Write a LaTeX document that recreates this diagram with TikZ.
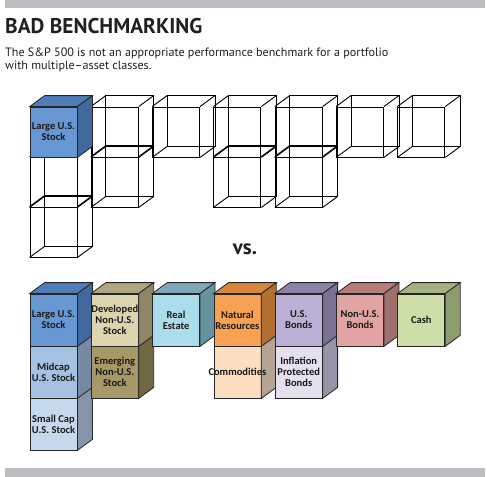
\documentclass[tikz,border=0pt]{standalone}
\usepackage{fontspec}
\setmainfont{PT Sans}
\newfontfamily\cubefont{Carlito}
\usepackage{xcolor}
\usetikzlibrary{positioning}

\definecolor{barGray}{RGB}{188,189,193}
\definecolor{inkBlack}{RGB}{35,31,32}
% front / top / side colours of the blocks
\definecolor{largeF}{RGB}{104,152,212}\definecolor{largeT}{RGB}{78,125,184}\definecolor{largeS}{RGB}{65,105,158}
\definecolor{midF}{RGB}{165,194,226}\definecolor{midS}{RGB}{118,137,163}
\definecolor{smallF}{RGB}{199,217,237}\definecolor{smallS}{RGB}{133,148,168}
\definecolor{devF}{RGB}{221,212,176}\definecolor{devT}{RGB}{176,165,128}\definecolor{devS}{RGB}{142,134,103}
\definecolor{emgF}{RGB}{167,152,103}\definecolor{emgS}{RGB}{112,104,66}
\definecolor{reF}{RGB}{172,221,236}\definecolor{reT}{RGB}{126,168,183}\definecolor{reS}{RGB}{103,146,160}
\definecolor{natF}{RGB}{247,162,83}\definecolor{natT}{RGB}{214,135,60}\definecolor{natS}{RGB}{180,112,50}
\definecolor{comF}{RGB}{253,222,193}\definecolor{comS}{RGB}{181,163,150}
\definecolor{usbF}{RGB}{188,176,214}\definecolor{usbT}{RGB}{143,130,168}\definecolor{usbS}{RGB}{122,114,148}
\definecolor{tipF}{RGB}{228,224,238}\definecolor{tipS}{RGB}{153,149,168}
\definecolor{nubF}{RGB}{226,164,163}\definecolor{nubT}{RGB}{183,124,124}\definecolor{nubS}{RGB}{160,111,110}
\definecolor{cashF}{RGB}{206,222,168}\definecolor{cashT}{RGB}{163,178,126}\definecolor{cashS}{RGB}{140,156,111}

% side face of a block (node name, colour)
\newcommand{\blockside}[2]{%
  \filldraw[fill=#2, draw=black!85, line width=0.8pt] (#1.north east) -- ++(15,-11)
    -- ([shift={(15,-11)}]#1.south east) -- (#1.south east) -- cycle;}
% top and side faces of a block (node name, top colour, side colour)
\newcommand{\blockfaces}[3]{%
  \filldraw[fill=#2, draw=black!85, line width=0.8pt] (#1.north west) -- ++(15,-11)
    -- ([shift={(15,-11)}]#1.north east) -- (#1.north east) -- cycle;
  \blockside{#1}{#3}}
% back edges of a wire cube
\newcommand{\wireback}[1]{%
  \draw[line width=0.9pt] ([shift={(15,-11)}]#1.north west) rectangle ([shift={(15,-11)}]#1.south east);
  \foreach \c in {north west,north east,south west,south east}
    \draw[line width=0.9pt] (#1.\c) -- ++(15,-11);}

\begin{document}
\begin{tikzpicture}[x=1pt, y=-1pt,
  face/.style={draw=black!85, line width=0.8pt, minimum width=47pt, minimum height=52pt,
    inner sep=0pt, align=center, text=black!90,
    font=\cubefont\bfseries\fontsize{10.5}{11}\selectfont},
  wire/.style={draw, line width=0.9pt, minimum width=47pt, minimum height=50pt, inner sep=0pt}]
\useasboundingbox (0,0) rectangle (504,477);
\fill[barGray] (5,0) rectangle (485,8);
\fill[barGray] (5,468) rectangle (485,477);

\node[anchor=base west, inner sep=0pt, text=inkBlack, font=\bfseries\fontsize{21.3}{24}\selectfont] (title) at (5,33) {BAD BENCHMARKING};
\node[anchor=base west, inner sep=0pt, text=inkBlack, font=\fontsize{12.1}{13}\selectfont] (sub1) at (5,56) {The S\&P 500 is not an appropriate performance benchmark for a portfolio};
\node[anchor=base west, inner sep=0pt, text=inkBlack, font=\fontsize{12.1}{13}\selectfont] (sub2) at (5,69) {with multiple–asset classes.};

% S&P 500: wire cubes
\node[wire] (w1b) at (53.5,182) {};
\node[wire] (w1c) at (53.5,232) {};
\node[wire] (w2a) at (114.8,132) {};
\node[wire] (w2b) at (114.8,182) {};
\node[wire] (w3a) at (176.1,132) {};
\node[wire] (w4a) at (237.4,132) {};
\node[wire] (w4b) at (237.4,182) {};
\node[wire] (w5a) at (298.7,132) {};
\node[wire] (w5b) at (298.7,182) {};
\node[wire] (w6a) at (360,132) {};
\node[wire] (w7a) at (421.3,132) {};
\wireback{w1b}\wireback{w1c}\wireback{w2a}\wireback{w2b}\wireback{w3a}
\wireback{w4a}\wireback{w4b}\wireback{w5a}\wireback{w5b}\wireback{w6a}\wireback{w7a}
\node[face, fill=largeF, minimum height=50pt] (spx) at (53.5,132) {Large U.S.\\Stock};
\blockfaces{spx}{largeT}{largeS}

\node[inner sep=0pt, anchor=base, text=inkBlack, font=\bfseries\fontsize{21}{24}\selectfont] (vs) at (245,254) {vs.};

% diversified portfolio
\node[face, fill=smallF] (small) at (53.5,424) {Small Cap\\U.S. Stock};
\blockside{small}{smallS}
\node[face, fill=midF] (mid) at (53.5,372) {Midcap\\U.S. Stock};
\blockside{mid}{midS}
\node[face, fill=largeF] (large) at (53.5,320) {Large U.S.\\Stock};
\blockfaces{large}{largeT}{largeS}

\node[face, fill=emgF] (emerging) at (114.8,372) {Emerging\\Non-U.S.\\Stock};
\blockside{emerging}{emgS}
\node[face, fill=devF] (developed) at (114.8,320) {Developed\\Non-U.S.\\Stock};
\blockfaces{developed}{devT}{devS}

\node[face, fill=reF] (realestate) at (176.1,320) {Real\\Estate};
\blockfaces{realestate}{reT}{reS}

\node[face, fill=comF] (commod) at (237.4,372) {};
\blockside{commod}{comS}
\node[face, fill=natF] (natural) at (237.4,320) {Natural\\Resources};
\blockfaces{natural}{natT}{natS}
\node[font=\cubefont\bfseries\fontsize{10.5}{11}\selectfont, text=black!90, inner sep=0pt] (commodtext) at (commod.center) {Commodities};

\node[face, fill=tipF] (tips) at (298.7,372) {Inflation\\Protected\\Bonds};
\blockside{tips}{tipS}
\node[face, fill=usbF] (usbonds) at (298.7,320) {U.S.\\Bonds};
\blockfaces{usbonds}{usbT}{usbS}

\node[face, fill=nubF] (nonusbonds) at (360,320) {Non-U.S.\\Bonds};
\blockfaces{nonusbonds}{nubT}{nubS}

\node[face, fill=cashF] (cash) at (421.3,320) {Cash};
\blockfaces{cash}{cashT}{cashS}
\end{tikzpicture}
\end{document}
